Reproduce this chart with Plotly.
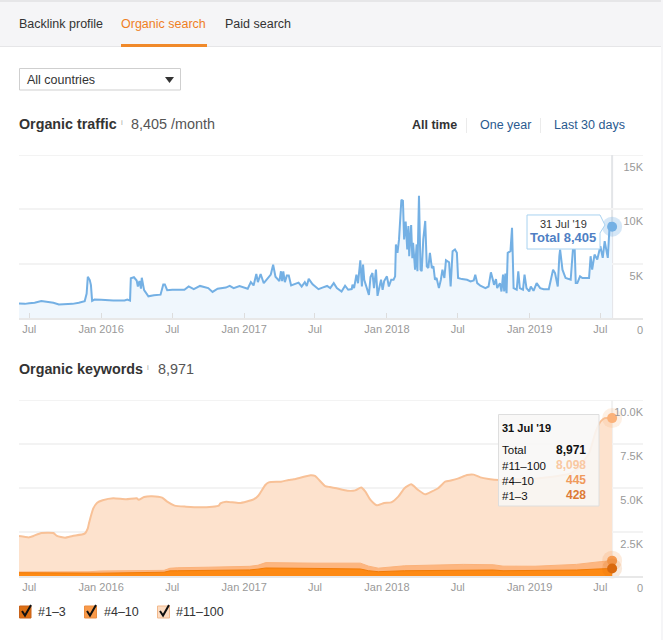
import plotly.graph_objects as go

# organic traffic
traffic_dates = [
    "2015-06-05", "2015-06-20", "2015-07-01", "2015-07-15", "2015-08-01", "2015-08-15", "2015-09-01", "2015-09-15",
    "2015-10-01", "2015-10-20", "2015-11-05", "2015-11-20", "2015-11-25", "2015-11-28", "2015-12-03", "2015-12-06",
    "2015-12-09", "2015-12-15", "2016-01-01", "2016-02-01", "2016-03-01", "2016-03-08", "2016-03-15", "2016-03-17",
    "2016-03-25", "2016-04-01", "2016-04-04", "2016-04-08", "2016-04-12", "2016-04-14", "2016-04-20", "2016-05-01",
    "2016-05-15", "2016-06-01", "2016-06-08", "2016-06-12", "2016-06-18", "2016-07-01", "2016-08-01", "2016-08-12",
    "2016-08-25", "2016-09-10", "2016-10-01", "2016-10-12", "2016-10-25", "2016-11-15", "2016-11-25", "2016-12-05",
    "2016-12-20", "2017-01-10", "2017-01-18", "2017-01-25", "2017-02-01", "2017-02-05", "2017-02-12", "2017-02-20",
    "2017-03-10", "2017-03-16", "2017-03-22", "2017-04-01", "2017-04-05", "2017-04-08", "2017-04-11", "2017-04-15",
    "2017-04-20", "2017-04-25", "2017-05-01", "2017-05-20", "2017-05-28", "2017-06-05", "2017-06-10", "2017-06-15",
    "2017-06-25", "2017-07-10", "2017-07-20", "2017-08-01", "2017-08-09", "2017-08-18", "2017-08-26", "2017-09-07",
    "2017-09-16", "2017-09-24", "2017-10-03", "2017-10-05", "2017-10-09", "2017-10-15", "2017-10-19", "2017-10-25",
    "2017-10-29", "2017-11-01", "2017-11-04", "2017-11-10", "2017-11-16", "2017-11-20", "2017-11-25", "2017-11-29",
    "2017-12-04", "2017-12-08", "2017-12-17", "2017-12-21", "2017-12-25", "2018-01-01", "2018-01-06", "2018-01-12",
    "2018-01-18", "2018-01-22", "2018-01-24", "2018-01-28", "2018-02-01", "2018-02-07", "2018-02-11", "2018-02-14",
    "2018-02-18", "2018-02-22", "2018-02-25", "2018-02-27", "2018-03-04", "2018-03-07", "2018-03-09", "2018-03-14",
    "2018-03-18", "2018-03-20", "2018-03-24", "2018-03-28", "2018-03-31", "2018-04-04", "2018-04-09", "2018-04-13",
    "2018-04-17", "2018-04-21", "2018-04-26", "2018-04-30", "2018-05-04", "2018-05-08", "2018-05-14", "2018-05-19",
    "2018-05-23", "2018-05-28", "2018-06-01", "2018-06-09", "2018-06-13", "2018-06-18", "2018-06-24", "2018-06-29",
    "2018-07-02", "2018-07-12", "2018-07-25", "2018-08-03", "2018-08-11", "2018-08-15", "2018-08-20", "2018-08-28",
    "2018-09-10", "2018-09-18", "2018-09-24", "2018-09-29", "2018-10-02", "2018-10-07", "2018-10-10", "2018-10-17",
    "2018-10-21", "2018-10-25", "2018-10-28", "2018-10-31", "2018-11-03", "2018-11-06", "2018-11-13", "2018-11-17",
    "2018-11-21", "2018-11-29", "2018-12-03", "2018-12-07", "2018-12-15", "2018-12-19", "2018-12-24", "2018-12-31",
    "2019-01-04", "2019-01-11", "2019-01-19", "2019-01-28", "2019-02-06", "2019-02-19", "2019-03-02", "2019-03-07",
    "2019-03-14", "2019-03-18", "2019-03-20", "2019-03-26", "2019-04-03", "2019-04-16", "2019-04-25", "2019-04-29",
    "2019-05-03", "2019-05-10", "2019-05-16", "2019-05-25", "2019-06-02", "2019-06-06", "2019-06-10", "2019-06-16",
    "2019-06-23", "2019-07-01", "2019-07-07", "2019-07-12", "2019-07-20", "2019-07-25", "2019-07-31",
]
traffic_values = [
    1330, 1300, 1360, 1400, 1560, 1500, 1400, 1240,
    1250, 1300, 1400, 1550, 2255, 3800, 3490, 3030,
    1575, 1700, 1670, 1600, 1620, 1700, 1600, 3650,
    3750, 3450, 2900, 3400, 2700, 3700, 2560, 2000,
    2100, 2150, 3090, 3090, 2560, 2600, 2600, 2900,
    2650, 2950, 2750, 2400, 2700, 2800, 2950, 2750,
    2950, 2700, 3300, 3000, 4050, 3300, 4050, 3200,
    4000, 4900, 3800, 3400, 4300, 3400, 4300, 3300,
    3900, 3900, 3000, 3250, 2900, 3300, 2950, 3600,
    3100, 2650, 2800, 2950, 2750, 3210, 2750, 2440,
    2970, 2600, 2660, 3060, 2750, 3990, 3200, 5310,
    2900, 4910, 3520, 2900, 2130, 3770, 4140, 2750,
    4450, 2040, 3520, 2600, 3400, 3830, 2900, 3520,
    3520, 3830, 6770, 5995, 7230, 10880, 10780, 7230,
    8870, 6300, 8470, 5685, 8560, 5500, 6920, 4450,
    6770, 4300, 11250, 4450, 4300, 7230, 8930, 4760,
    4600, 5995, 4600, 4760, 3520, 3680, 2750, 3520,
    4450, 3680, 5310, 5130, 2900, 6150, 6300, 5995,
    3680, 3580, 3520, 3370, 3460, 3990, 3210, 2970,
    2750, 2900, 4200, 3520, 3050, 3580, 2750, 3210,
    2440, 3990, 2440, 4080, 2290, 5995, 6150, 8310,
    2750, 2600, 4300, 2750, 2600, 3990, 2750, 2440,
    2900, 2500, 3210, 2750, 2650, 2650, 4450, 4140,
    2900, 5685, 6300, 4450, 3680, 3520, 7850, 3210,
    3210, 3830, 3680, 3680, 3680, 5685, 4450, 5840,
    5380, 6610, 5530, 7080, 5530, 8780, 8405,
]

# organic keywords: top line is the total
keyword_dates = [
    "2015-06-05", "2015-07-01", "2015-07-12", "2015-08-01", "2015-09-01", "2015-09-10", "2015-10-01", "2015-10-20",
    "2015-11-20", "2015-11-28", "2015-12-01", "2015-12-12", "2015-12-22", "2016-01-05", "2016-02-01", "2016-03-05",
    "2016-04-01", "2016-04-06", "2016-04-20", "2016-05-10", "2016-06-05", "2016-06-18", "2016-07-07", "2016-08-05",
    "2016-09-10", "2016-10-12", "2016-10-28", "2016-11-01", "2016-11-16", "2016-12-20", "2017-01-25", "2017-02-06",
    "2017-02-24", "2017-03-05", "2017-04-05", "2017-04-25", "2017-05-08", "2017-06-20", "2017-07-01", "2017-07-27",
    "2017-08-08", "2017-08-25", "2017-09-22", "2017-10-12", "2017-10-27", "2017-11-07", "2017-11-20", "2017-12-06",
    "2017-12-25", "2018-01-12", "2018-01-30", "2018-02-15", "2018-03-04", "2018-03-22", "2018-04-09", "2018-04-25",
    "2018-05-12", "2018-05-30", "2018-06-16", "2018-07-03", "2018-07-25", "2018-08-11", "2018-08-28", "2018-09-18",
    "2018-10-14", "2018-11-21", "2019-01-01", "2019-02-16", "2019-03-13", "2019-04-16", "2019-05-07", "2019-06-02",
    "2019-06-19", "2019-07-01", "2019-07-12", "2019-07-31",
]
keyword_total = [
    2275, 2195, 2275, 2445, 2445, 2275, 2175, 2275,
    2405, 2710, 2995, 3840, 4165, 4300, 4415, 4355,
    4415, 4335, 4490, 4530, 4450, 4225, 4000, 3940,
    3900, 3940, 4000, 4125, 4225, 4145, 4355, 4560,
    5170, 5320, 5360, 5455, 5495, 5725, 5685, 5110,
    5055, 4985, 4845, 4865, 5025, 4790, 4320, 4015,
    4145, 4185, 4510, 4985, 5210, 4885, 4640, 4790,
    4985, 5360, 5435, 5545, 5740, 5760, 5605, 5515,
    5455, 5495, 5495, 5605, 5685, 5830, 6175, 6975,
    8205, 8765, 8971, 8971,
]

# lower bands, cumulative from the bottom
band_dates = [
    "2015-06-05", "2015-12-01", "2016-01-01", "2016-06-10", "2016-06-25", "2016-07-15", "2016-10-01", "2017-01-15",
    "2017-02-05", "2017-02-25", "2017-07-01", "2017-10-25", "2017-11-15", "2017-12-10", "2018-02-15", "2018-07-15",
    "2018-09-30", "2018-10-25", "2019-01-15", "2019-05-01", "2019-06-25", "2019-07-31",
]
band_top10 = [230, 240, 285, 320, 440, 470, 500, 550, 610, 760, 730, 730, 560, 445, 580, 660, 640, 560, 555, 660, 800, 873]
band_top3 = [190, 160, 160, 215, 295, 300, 310, 345, 390, 455, 430, 400, 300, 245, 300, 340, 340, 300, 300, 340, 400, 428]

x_tickvals = ["2015-07-01", "2016-01-01", "2016-07-01", "2017-01-01", "2017-07-01", "2018-01-01", "2018-07-01", "2019-01-01", "2019-07-01"]
x_ticktext = ["Jul", "Jan 2016", "Jul", "Jan 2017", "Jul", "Jan 2018", "Jul", "Jan 2019", "Jul"]
traffic_ticks = [0, 5000, 10000, 15000]
traffic_ticktext = ["0", "5K", "10K", "15K"]
keyword_ticks = [0, 2500, 5000, 7500, 10000]
keyword_ticktext = ["0", "2.5K", "5.0K", "7.5K", "10.0K"]

W = 663
H = 640
FONT = "Liberation Sans"
END = "2019-07-31"


def fx(px):
    return px / W


def fy(py):
    return 1 - py / H


def label(px, py, text, size=12.5, color="#333333", anchor="left", bold=False):
    if bold:
        text = "<b>" + text + "</b>"
    # annotations keep 2px of padding around the text
    if anchor == "left":
        px -= 2
    elif anchor == "right":
        px += 2
    return dict(text=text, x=fx(px), y=fy(py), xref="paper", yref="paper", xanchor=anchor, yanchor="middle",
                showarrow=False, font=dict(family=FONT, size=size, color=color))


def box(x0, y0, x1, y1, fill=None, line=None, width=1, layer="below"):
    return dict(type="rect", xref="paper", yref="paper", x0=fx(x0), y0=fy(y0), x1=fx(x1), y1=fy(y1),
                fillcolor=fill, line=dict(color=line, width=width if line else 0), layer=layer)


def path(points, fill=None, line=None, width=1, close=False, layer="above"):
    d = "M " + " L ".join("%.4f %.4f" % (fx(p[0]), fy(p[1])) for p in points)
    if close:
        d += " Z"
    return dict(type="path", xref="paper", yref="paper", path=d, fillcolor=fill,
                line=dict(color=line, width=width if line else 0), layer=layer)


fig = go.Figure()

fig.add_trace(go.Scatter(x=traffic_dates, y=traffic_values, mode="lines", xaxis="x", yaxis="y",
                         line=dict(color="#74b0e4", width=2), fill="tozeroy", fillcolor="#f0f7fd", hoverinfo="skip"))
fig.add_trace(go.Scatter(x=keyword_dates, y=keyword_total, mode="lines", xaxis="x2", yaxis="y2",
                         line=dict(color="#f8c197", width=2, shape="spline", smoothing=0.5),
                         fill="tozeroy", fillcolor="#fde2cd", hoverinfo="skip"))
fig.add_trace(go.Scatter(x=band_dates, y=band_top10, mode="lines", xaxis="x2", yaxis="y2",
                         line=dict(color="#fbb27a", width=1), fill="tozeroy", fillcolor="#fdb680", hoverinfo="skip"))
fig.add_trace(go.Scatter(x=band_dates, y=band_top3, mode="lines", xaxis="x2", yaxis="y2",
                         line=dict(color="#f27c08", width=1), fill="tozeroy", fillcolor="#fe8a14", hoverinfo="skip"))

# end markers with their halos
end_points = [
    ("x", "y", traffic_values[-1], "#74b0e4", "rgba(116,176,228,0.3)"),
    ("x2", "y2", keyword_total[-1], "#fbb27a", "rgba(251,178,122,0.2)"),
    ("x2", "y2", band_top10[-1], "#f59a50", "rgba(245,154,80,0.2)"),
    ("x2", "y2", band_top3[-1], "#d9690d", "rgba(217,105,13,0.15)"),
]
for xa, ya, val, col, halo in end_points:
    fig.add_trace(go.Scatter(x=[END], y=[val], mode="markers", xaxis=xa, yaxis=ya, cliponaxis=False,
                             marker=dict(size=20, color=halo), hoverinfo="skip"))
    fig.add_trace(go.Scatter(x=[END], y=[val], mode="markers", xaxis=xa, yaxis=ya, cliponaxis=False,
                             marker=dict(size=10, color=col), hoverinfo="skip"))

x_range = ["2015-06-05", "2019-10-18"]
tickfont = dict(family=FONT, size=11, color="#999999")


def xaxis(anchor, ticks):
    return dict(domain=[fx(19), fx(643)], anchor=anchor, type="date", range=x_range, tickmode="array",
                tickvals=x_tickvals, ticktext=x_ticktext, tickfont=tickfont, showgrid=False, zeroline=False,
                showline=True, linecolor="#e8e8e8", linewidth=2, ticks=ticks, ticklen=5, tickcolor="#dddddd",
                tickangle=0)


def yaxis(anchor, top, bottom, rng, vals, text):
    return dict(domain=[fy(bottom), fy(top)], anchor=anchor, side="right", ticklabelposition="inside", range=rng,
                tickmode="array", tickvals=vals, ticktext=text, tickfont=tickfont, showgrid=True,
                gridcolor="#f3f3f3", gridwidth=2, zeroline=False, showline=False, ticks="", ticklabelshift=12,
                ticklabelstandoff=-3)


shapes = [
    # page chrome
    box(0, 0, W, 46, fill="#f5f5f7"),
    box(0, 0, W, 2, fill="#e6e6e8"),
    box(0, 46, W, 47, fill="#e6e6e8"),
    box(661, 0, W, H, fill="#f5f5f7"),
    box(121, 44, 207, 47, fill="#f0892a"),
    box(19.5, 68.5, 180.5, 90, fill="#ffffff", line="#cfcfcf"),
    path([(165, 77), (174, 77), (169.5, 83)], fill="#333333", close=True),
    box(466, 118, 466.6, 133, fill="#dddddd"),
    box(540, 118, 540.6, 133, fill="#dddddd"),
    # top gridlines, plotly drops the ones sitting on the range end
    dict(type="line", xref="paper", yref="y", x0=fx(19), x1=fx(643), y0=15000, y1=15000, line=dict(color="#f3f3f3", width=2), layer="below"),
    dict(type="line", xref="paper", yref="y2", x0=fx(19), x1=fx(643), y0=10000, y1=10000, line=dict(color="#f3f3f3", width=2), layer="below"),
    # cursor lines
    dict(type="line", xref="x", yref="y", x0=END, x1=END, y0=0, y1=15000, line=dict(color="#e3e5e8", width=2), layer="below"),
    dict(type="line", xref="x2", yref="y2", x0=END, x1=END, y0=0, y1=10000, line=dict(color="#f1f1f1", width=2), layer="below"),
    # traffic tooltip
    path([(527, 215), (600, 215), (605, 225), (600, 233), (600, 249), (527, 249)], fill="#ffffff", line="#a9d2f0", close=True),
    # keywords tooltip
    box(498.5, 414.5, 599, 506, fill="rgba(248,247,246,0.88)", line="#dedede", layer="above"),
    # legend boxes
    box(19.5, 606, 31, 618, fill="#dc6f13", line="#c8621a"),
    box(84.5, 606, 96.5, 618, fill="#f99a4a", line="#ec8d40"),
    box(157.5, 606, 169.5, 618, fill="#fddcc2", line="#f2b98c"),
]
for cx in [20, 85, 158]:
    shapes.append(path([(cx + 2, 611), (cx + 5, 615.5), (cx + 11, 605)], line="#111111", width=2))

annotations = [
    label(19, 24, "Backlink profile"),
    label(121, 24, "Organic search", color="#ef7f1f"),
    label(225, 24, "Paid search"),
    label(27, 80, "All countries"),
    label(19, 124, "Organic traffic", size=14.3, bold=True),
    label(121, 122, "i", size=8, color="#aaaaaa"),
    label(131, 124, "8,405 /month", size=14.4, color="#555555"),
    label(412, 125, "All time", bold=True),
    label(480, 125, "One year", color="#2a5a8f"),
    label(554, 125, "Last 30 days", color="#2a5a8f"),
    label(19, 369, "Organic keywords", size=14.3, bold=True),
    label(147, 367, "i", size=8, color="#aaaaaa"),
    label(158, 369, "8,971", size=14.4, color="#555555"),
    label(563, 224, "31 Jul '19", size=11, color="#333333", anchor="center"),
    label(563, 238, "Total 8,405", size=13, color="#4f7fc4", anchor="center", bold=True),
    label(502, 428, "31 Jul '19", size=11, color="#111111", bold=True),
    label(502, 450, "Total", size=11.5, color="#111111"),
    label(502, 466, "#11–100", size=11.5, color="#111111"),
    label(502, 481, "#4–10", size=11.5, color="#111111"),
    label(502, 496, "#1–3", size=11.5, color="#111111"),
    label(586, 450, "8,971", size=12, color="#111111", anchor="right", bold=True),
    label(586, 465, "8,098", size=12, color="#f9c8a2", anchor="right", bold=True),
    label(586, 480, "445", size=12, color="#f09a5c", anchor="right", bold=True),
    label(586, 495, "428", size=12, color="#dd7a35", anchor="right", bold=True),
    label(38, 612, "#1–3"),
    label(104, 612, "#4–10"),
    label(176, 612, "#11–100"),
    # the zero labels fall outside the axis once shifted down
    label(643, 330, "0", size=11, color="#999999", anchor="right"),
    label(643, 588, "0", size=11, color="#999999", anchor="right"),
]

fig.update_layout(
    width=W, height=H, autosize=False,
    margin=dict(l=0, r=0, t=0, b=0, pad=0),
    paper_bgcolor="#ffffff", plot_bgcolor="rgba(0,0,0,0)",
    showlegend=False,
    xaxis=xaxis("y", "inside"),
    yaxis=yaxis("x", 155, 318, [0, 15000], traffic_ticks, traffic_ticktext),
    xaxis2=xaxis("y2", ""),
    yaxis2=yaxis("x2", 400, 576, [0, 10000], keyword_ticks, keyword_ticktext),
    shapes=shapes,
    annotations=annotations,
)

fig.write_html("out.html", post_script="document.body.style.margin='0';", config=dict(displayModeBar=False))
